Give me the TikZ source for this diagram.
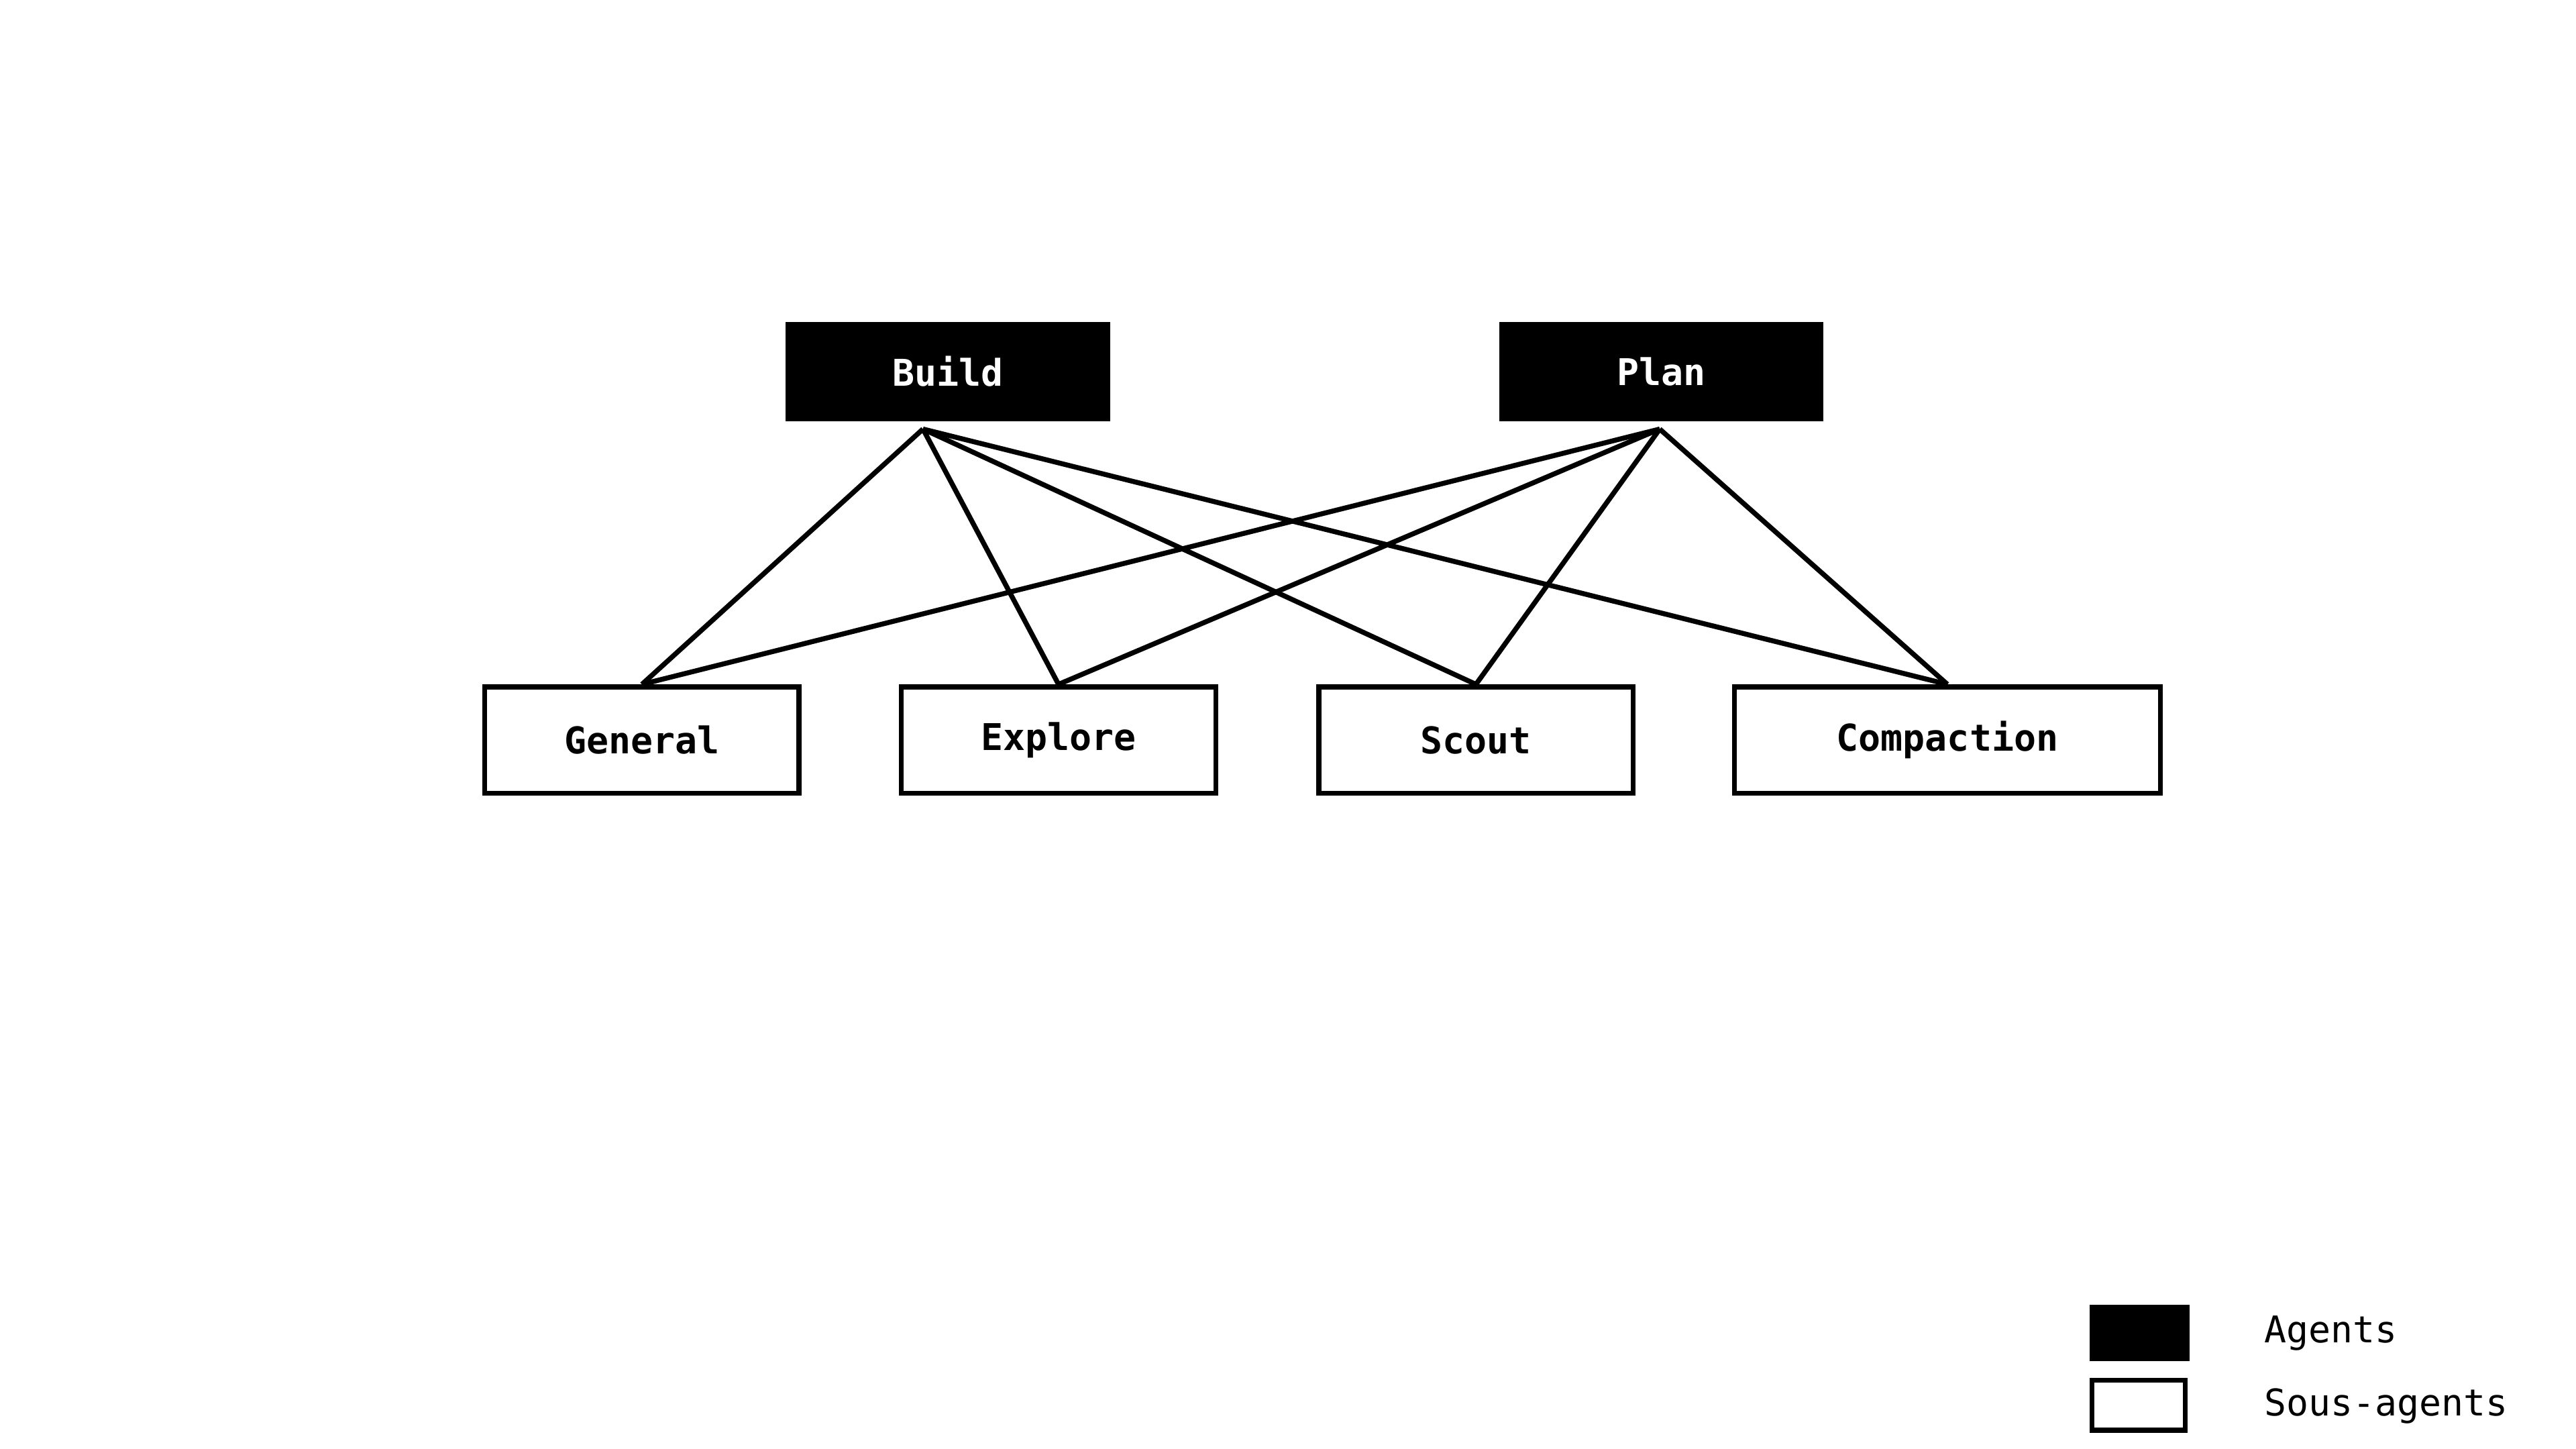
\documentclass[tikz,border=0pt]{standalone}
\usepackage{fontspec}
\setmainfont{DejaVu Sans Mono}
\begin{document}
\begin{tikzpicture}[x=1mm, y=1mm, line width=0.85pt, font=\fontsize{6.3}{7}\selectfont,
agent/.style={rectangle, draw=black, fill=black, text=white, font=\fontsize{6.3}{7}\selectfont\bfseries, minimum width=19.2mm, minimum height=5.7mm, inner sep=0pt},
sub/.style={rectangle, draw=black, fill=white, font=\fontsize{6.3}{7}\selectfont\bfseries, minimum width=18.9mm, minimum height=6.4mm, inner sep=0pt},
link/.style={line width=0.85pt}]
 \useasboundingbox (0,0) rectangle (154.9,87.1);
 \node[agent] (build) at (57.0,64.75) {Build};
 \node[agent] (plan) at (99.9,64.75) {Plan};
 \coordinate (buildout) at (55.5,61.3);
 \coordinate (planout) at (99.8,61.3);

 \node[sub] (general) at (38.6,42.6) {General};
 \node[sub] (explore) at (63.65,42.6) {Explore};
 \node[sub] (scout) at (88.75,42.6) {Scout};
 \node[sub, minimum width=25.6mm] (compaction) at (117.1,42.6) {Compaction};

 \foreach \s in {general, explore, scout, compaction} {
  \draw[link] (buildout) -- (\s.north);
  \draw[link] (planout) -- (\s.north);
 }

 % legende
 \node[agent, minimum width=5.7mm, minimum height=3.1mm] (keyagent) at (128.65,6.95) {};
 \node[sub, minimum width=5.6mm, minimum height=3.0mm] (keysub) at (128.6,2.6) {};
 \node[anchor=west, inner sep=0pt] at (136.0,6.95) {Agents};
 \node[anchor=west, inner sep=0pt] at (136.0,2.55) {Sous-agents};
\end{tikzpicture}
\end{document}
